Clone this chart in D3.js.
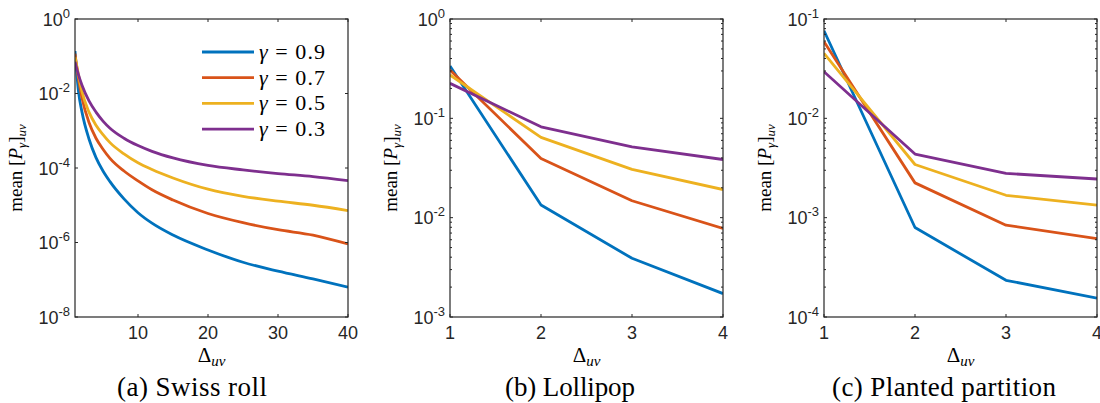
<!DOCTYPE html>
<html>
<head>
<meta charset="utf-8">
<script src="https://cdn.jsdelivr.net/npm/d3@7/dist/d3.min.js"></script>
<style>
  body { margin: 0; background: #fff; }
  svg text { font-family: "Liberation Sans", Arial, sans-serif; fill: #262626; }
  svg text.math { font-family: "Liberation Serif", "Times New Roman", serif; fill: #000; }
</style>
</head>
<body>
<div id="chart"></div>
<script>
// legend labels and MATLAB default colours
const gammaLabels = ["0.9", "0.7", "0.5", "0.3"];
const lineColors = ["#0072bd", "#d95319", "#edb120", "#7e2f8e"];

// (a) Swiss roll
const swissDelta = [1, 1.5, 2, 3, 4, 5, 6, 8, 10, 12, 15, 20, 25, 30, 35, 40];
const swissG09 = [0.138, 1.12e-2, 3.16e-3, 6.0e-4, 1.9e-4, 8.3e-5, 4.3e-5, 1.48e-5, 6.3e-6, 3.3e-6, 1.58e-6, 6.3e-7, 2.95e-7, 1.7e-7, 1.05e-7, 6.3e-8];
const swissG07 = [0.117, 2.5e-2, 7.6e-3, 1.66e-3, 6.3e-4, 3.2e-4, 1.82e-4, 8.3e-5, 4.5e-5, 2.6e-5, 1.38e-5, 6.0e-6, 3.4e-6, 2.2e-6, 1.58e-6, 9.1e-7];
const swissG05 = [0.095, 3.16e-2, 1.12e-2, 3.16e-3, 1.41e-3, 7.9e-4, 4.8e-4, 2.4e-4, 1.38e-4, 9.1e-5, 5.4e-5, 2.7e-5, 1.74e-5, 1.29e-5, 1.0e-5, 7.2e-6];
const swissG03 = [0.071, 3.16e-2, 1.66e-2, 6.3e-3, 3.16e-3, 1.82e-3, 1.17e-3, 6.3e-4, 4.0e-4, 2.8e-4, 1.86e-4, 1.17e-4, 8.9e-5, 7.1e-5, 5.9e-5, 4.6e-5];

// (b) Lollipop
const lolliDelta = [1, 2, 3, 4];
const lolliG09 = [0.336, 0.0134, 3.9e-3, 1.72e-3];
const lolliG07 = [0.306, 0.0394, 0.0148, 7.8e-3];
const lolliG05 = [0.273, 0.0644, 0.0306, 0.0192];
const lolliG03 = [0.225, 0.0822, 0.0517, 0.0385];

// (c) Planted partition
const plantedDelta = [1, 2, 3, 4];
const plantedG09 = [0.0762, 7.96e-4, 2.34e-4, 1.55e-4];
const plantedG07 = [0.0591, 2.24e-3, 8.4e-4, 6.16e-4];
const plantedG05 = [0.0451, 3.43e-3, 1.68e-3, 1.34e-3];
const plantedG03 = [0.0295, 4.37e-3, 2.79e-3, 2.45e-3];

// ticks
const swissXTicks = [10, 20, 30, 40];
const swissYTicks = [1e-8, 1e-6, 1e-4, 1e-2, 1];
const lolliXTicks = [1, 2, 3, 4];
const lolliYTicks = [1e-3, 1e-2, 1e-1, 1];
const plantedXTicks = [1, 2, 3, 4];
const plantedYTicks = [1e-4, 1e-3, 1e-2, 1e-1];

const captions = ["(a) Swiss roll", "(b) Lollipop", "(c) Planted partition"];

const width = 1100;
const height = 403;
const plotTop = 19;
const plotBottom = 317;
const plotW = 273;

const svg = d3
  .select("#chart")
  .append("svg")
  .attr("width", width)
  .attr("height", height);

const panels = [
  { left: 75, delta: swissDelta, series: [swissG09, swissG07, swissG05, swissG03],
    xDomain: [1, 40], xTicks: swissXTicks, yTicks: swissYTicks, minor: false,
    legend: true, caption: captions[0], capX: 192, capW: 150 },
  { left: 450, delta: lolliDelta, series: [lolliG09, lolliG07, lolliG05, lolliG03],
    xDomain: [1, 4], xTicks: lolliXTicks, yTicks: lolliYTicks, minor: true,
    legend: false, caption: captions[1], capX: 570, capW: 130 },
  { left: 824, delta: plantedDelta, series: [plantedG09, plantedG07, plantedG05, plantedG03],
    xDomain: [1, 4], xTicks: plantedXTicks, yTicks: plantedYTicks, minor: true,
    legend: false, caption: captions[2], capX: 944, capW: 224 },
];

panels.forEach((p, pi) => {
  const x = d3.scaleLinear().domain(p.xDomain).range([p.left, p.left + plotW]);
  const y = d3
    .scaleLog()
    .domain([p.yTicks[0], p.yTicks[p.yTicks.length - 1]])
    .range([plotBottom, plotTop]);

  const g = svg.append("g");

  svg
    .append("clipPath")
    .attr("id", "clip" + pi)
    .append("rect")
    .attr("x", p.left)
    .attr("y", plotTop)
    .attr("width", plotW)
    .attr("height", plotBottom - plotTop);

  // lines
  const line = d3
    .line()
    .x((d) => x(d[0]))
    .y((d) => y(d[1]))
    .curve(p.delta.length > 4 ? d3.curveMonotoneX : d3.curveLinear);

  p.series.forEach((vals, i) => {
    g.append("path")
      .datum(p.delta.map((d, j) => [d, vals[j]]))
      .attr("clip-path", "url(#clip" + pi + ")")
      .attr("fill", "none")
      .attr("stroke", lineColors[i])
      .attr("stroke-width", 2.8)
      .attr("stroke-linejoin", "round")
      .attr("d", line);
  });

  // box
  g.append("rect")
    .attr("x", p.left)
    .attr("y", plotTop)
    .attr("width", plotW)
    .attr("height", plotBottom - plotTop)
    .attr("fill", "none")
    .attr("stroke", "#262626")
    .attr("stroke-width", 1.2);

  const tl = 3;
  // x ticks, bottom and top, pointing inward
  p.xTicks.forEach((t) => {
    g.append("line")
      .attr("x1", x(t)).attr("x2", x(t))
      .attr("y1", plotBottom).attr("y2", plotBottom - tl)
      .attr("stroke", "#262626");
    g.append("line")
      .attr("x1", x(t)).attr("x2", x(t))
      .attr("y1", plotTop).attr("y2", plotTop + tl)
      .attr("stroke", "#262626");
    g.append("text")
      .attr("x", x(t))
      .attr("y", 339)
      .attr("text-anchor", "middle")
      .attr("font-size", 18)
      .text(t);
  });

  // y ticks
  const yt = p.yTicks.slice();
  if (p.minor) {
    for (let k = 0; k < p.yTicks.length - 1; k++) {
      for (let m = 2; m < 10; m++) yt.push(p.yTicks[k] * m);
    }
  }
  yt.forEach((t) => {
    const isMajor = p.yTicks.includes(t);
    const len = isMajor ? tl : 2;
    g.append("line")
      .attr("x1", p.left).attr("x2", p.left + len)
      .attr("y1", y(t)).attr("y2", y(t))
      .attr("stroke", "#262626");
    g.append("line")
      .attr("x1", p.left + plotW).attr("x2", p.left + plotW - len)
      .attr("y1", y(t)).attr("y2", y(t))
      .attr("stroke", "#262626");
  });

  p.yTicks.forEach((t) => {
    const e = Math.round(Math.log10(t));
    const txt = g
      .append("text")
      .attr("x", p.left - 5)
      .attr("y", y(t) + 6.5)
      .attr("text-anchor", "end")
      .attr("font-size", 18);
    txt.append("tspan").text("10");
    txt.append("tspan")
      .attr("font-size", 13)
      .attr("dy", -8)
      .text(e);
  });

  // y label
  const yl = g
    .append("text")
    .attr("class", "math")
    .attr("transform", `translate(${p.left - 53},${(plotTop + plotBottom) / 2}) rotate(-90)`)
    .attr("text-anchor", "middle")
    .attr("font-size", 19);
  yl.append("tspan").text("mean [");
  yl.append("tspan").attr("font-style", "italic").text("P");
  yl.append("tspan").attr("font-style", "italic").attr("font-size", 13).attr("dy", 4).text("γ");
  yl.append("tspan").attr("dy", -4).text("]");
  yl.append("tspan").attr("font-style", "italic").attr("font-size", 13).attr("dy", 4).text("uv");

  // x label
  const xl = g
    .append("text")
    .attr("class", "math")
    .attr("x", p.left + plotW / 2)
    .attr("y", 362)
    .attr("text-anchor", "middle")
    .attr("font-size", 21);
  xl.append("tspan").text("Δ");
  xl.append("tspan").attr("font-style", "italic").attr("font-size", 15).attr("dy", 4).text("uv");

  // caption
  g.append("text")
    .attr("class", "math")
    .attr("x", p.capX)
    .attr("y", 396)
    .attr("text-anchor", "middle")
    .attr("font-size", 27)
    .attr("textLength", p.capW)
    .attr("lengthAdjust", "spacing")
    .text(p.caption);

  // legend
  if (p.legend) {
    gammaLabels.forEach((lab, i) => {
      const ly = 52 + i * 25.7;
      g.append("line")
        .attr("x1", p.left + 127).attr("x2", p.left + 179)
        .attr("y1", ly).attr("y2", ly)
        .attr("stroke", lineColors[i])
        .attr("stroke-width", 2.8);
      const lt = g
        .append("text")
        .attr("class", "math")
        .attr("x", p.left + 184)
        .attr("y", ly + 7)
        .attr("font-size", 22)
        .attr("textLength", 66)
        .attr("lengthAdjust", "spacing");
      lt.append("tspan").attr("font-style", "italic").text("γ");
      lt.append("tspan").text(" = " + lab);
    });
  }
});
</script>
</body>
</html>
